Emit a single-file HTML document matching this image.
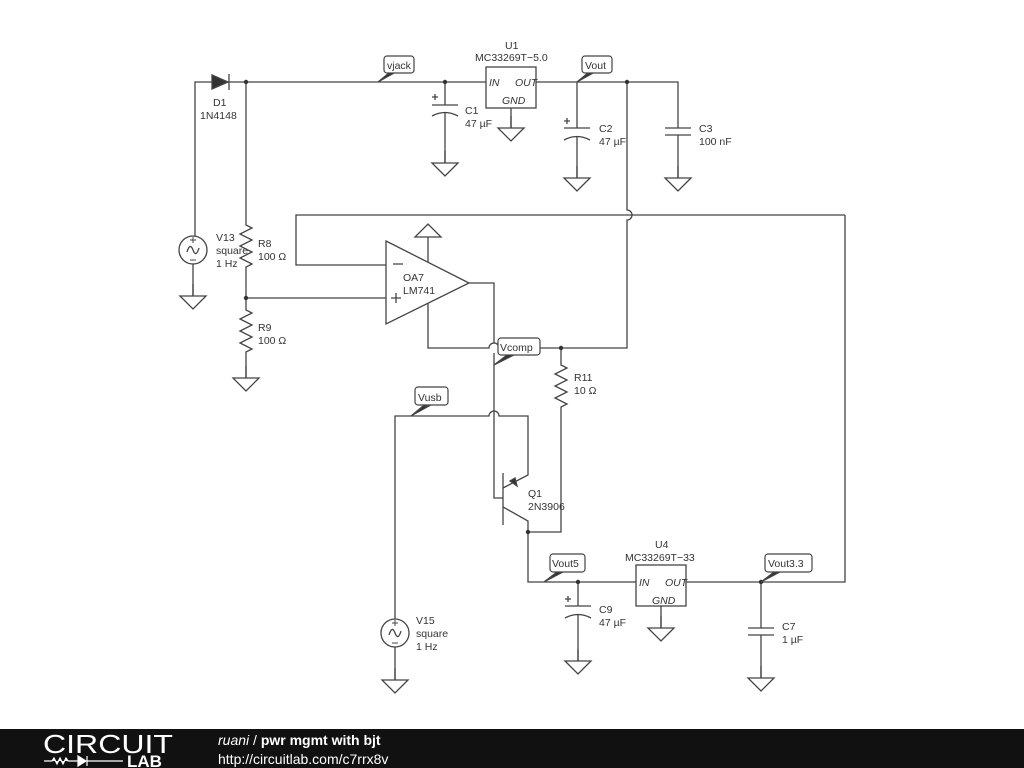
<!DOCTYPE html>
<html><head><style>
body{margin:0;width:1024px;height:768px;background:#fff;overflow:hidden;font-family:"Liberation Sans",sans-serif}
svg{position:absolute;left:0;top:0}
text{font-family:"Liberation Sans",sans-serif;font-size:10.5px;fill:#333}
</style></head><body>
<svg width="1024" height="768" viewBox="0 0 1024 768">
<defs>
<g id="gnd"><path d="M0 0 v12 M-13 12 h26 l-13 13 z" fill="none" stroke="#444" stroke-width="1.3"/></g>
<g id="dot"><circle r="2.2" fill="#333"/></g>
</defs>
<g fill="none" stroke="#444" stroke-width="1.3">
<path d="M195 236 V82 H212 M228 82 H486"/>
<path d="M212 75 L228 82 L212 89 Z" fill="#333"/>
<path d="M229 74 V90"/>
<path d="M246 82 V225 l6 3 -12 6 12 6 -12 6 12 6 -12 6 12 6 -6 3 V310 l6 3 -12 6 12 6 -12 6 12 6 -12 6 12 6 -6 3 V378"/>
<path d="M445 82 V105 M432 105 h26 M432 116 q13 -7 26 0 M445 112 V163"/>
<path d="M432 97 h6 M435 94 v6"/>
<rect x="486" y="67" width="50" height="41"/>
<path d="M511 108 V128 M536 82 H678 V128 M665 128 h26 M665 135 h26 M678 135 V178"/>
<path d="M577 82 V128 M564 128 h26 M564 140 q13 -7 26 0 M577 136 V178"/>
<path d="M564 121 h6 M567 118 v6"/>
<path d="M627 82 V210 a5 5 0 0 1 0 10 V348 H499 a5 5 0 0 0 -10 0 H428 V303"/>
<path d="M845 215 H296 V265 H386 M845 215 V582 H686"/>
<path d="M246 298 H386"/>
<path d="M386 241 L469 283 L386 324 Z"/>
<path d="M393 264 h10 M391 298 h10 M396 293 v10"/>
<path d="M428 262 V237 M415 237 h26 l-13 -13 z"/>
<path d="M469 283 H494 V343 M494 353 V498 H503"/>
<path d="M561 348 V365 l6 3 -12 6 12 6 -12 6 12 6 -12 6 12 6 -6 3 V532 H528"/>
<path d="M503 473 V525"/>
<path d="M503 488 L528 475 V416 H499 a5 5 0 0 0 -10 0 H395 V619"/>
<path d="M503 507 L528 521 V582 H636"/>
<path d="M510 481 L517 486 L515 478 Z" fill="#333"/>
<rect x="636" y="565" width="50" height="41"/>
<path d="M661 606 V628"/>
<path d="M578 582 V606 M565 606 h26 M565 618 q13 -7 26 0 M578 614 V661"/>
<path d="M565 599 h6 M568 596 v6"/>
<path d="M761 582 V628 M748 628 h26 M748 635 h26 M761 635 V678"/>
<circle cx="193" cy="250" r="14"/>
<path d="M187 252 q3 -10 6 -2 q3 8 6 -2"/>
<path d="M193 264 V296"/>
<circle cx="395" cy="633" r="14"/>
<path d="M389 635 q3 -10 6 -2 q3 8 6 -2"/>
<path d="M395 647 V680"/>
</g>
<g stroke="#444" stroke-width="1" fill="none">
<path d="M190 240 h6 M193 237 v6 M190 260 h6"/>
<path d="M392 623 h6 M395 620 v6 M392 643 h6"/>
</g>
<use href="#gnd" x="193" y="284"/>
<use href="#gnd" x="246" y="366"/>
<use href="#gnd" x="445" y="151"/>
<use href="#gnd" x="511" y="116"/>
<use href="#gnd" x="577" y="166"/>
<use href="#gnd" x="678" y="166"/>
<use href="#gnd" x="395" y="668"/>
<use href="#gnd" x="578" y="649"/>
<use href="#gnd" x="661" y="616"/>
<use href="#gnd" x="761" y="666"/>
<use href="#dot" x="246" y="82"/><use href="#dot" x="445" y="82"/>
<use href="#dot" x="627" y="82"/><use href="#dot" x="246" y="298"/>
<use href="#dot" x="561" y="348"/><use href="#dot" x="528" y="532"/>
<use href="#dot" x="578" y="582"/><use href="#dot" x="761" y="582"/>
<g stroke="#444" stroke-width="1.2">
<path d="M378 82 L390 72 L396 72 Z" fill="#333"/>
<rect x="384" y="56" width="30" height="17" rx="3" fill="#fff"/>
<path d="M577 82 L589 72 L595 72 Z" fill="#333"/>
<rect x="582" y="56" width="30" height="17" rx="3" fill="#fff"/>
<path d="M494 365 L507 355 L514 355 Z" fill="#333"/>
<rect x="498" y="338" width="42" height="17" rx="3" fill="#fff"/>
<path d="M411 416 L423 406 L429 406 Z" fill="#333"/>
<rect x="415" y="387" width="33" height="18" rx="3" fill="#fff"/>
<path d="M544 582 L557 572 L563 572 Z" fill="#333"/>
<rect x="550" y="554" width="35" height="18" rx="3" fill="#fff"/>
<path d="M761 582 L774 572 L780 572 Z" fill="#333"/>
<rect x="765" y="554" width="47" height="18" rx="3" fill="#fff"/>
</g>
<g style="font-size:11.5px">
<text x="387" y="69">vjack</text><text x="585" y="69">Vout</text>
<text x="500" y="351">Vcomp</text><text x="418" y="401">Vusb</text>
<text x="552" y="567">Vout5</text><text x="768" y="567">Vout3.3</text>
</g>
<text x="213" y="106">D1</text><text x="200" y="119">1N4148</text>
<text x="505" y="49">U1</text><text x="475" y="61">MC33269T−5.0</text>
<text x="465" y="114">C1</text><text x="465" y="127">47 µF</text>
<text x="599" y="132">C2</text><text x="599" y="145">47 µF</text>
<text x="699" y="132">C3</text><text x="699" y="145">100 nF</text>
<text x="216" y="241">V13</text><text x="216" y="254">square</text><text x="216" y="267">1 Hz</text>
<text x="258" y="247">R8</text><text x="258" y="260">100 Ω</text>
<text x="258" y="331">R9</text><text x="258" y="344">100 Ω</text>
<text x="403" y="281">OA7</text><text x="403" y="294">LM741</text>
<text x="574" y="381">R11</text><text x="574" y="394">10 Ω</text>
<text x="528" y="497">Q1</text><text x="528" y="510">2N3906</text>
<text x="655" y="548">U4</text><text x="625" y="561">MC33269T−33</text>
<text x="599" y="613">C9</text><text x="599" y="626">47 µF</text>
<text x="782" y="630">C7</text><text x="782" y="643">1 µF</text>
<text x="416" y="624">V15</text><text x="416" y="637">square</text><text x="416" y="650">1 Hz</text>
<g style="font-size:8px;font-style:italic">
<text x="489" y="86">IN</text><text x="515" y="86">OUT</text><text x="502" y="104">GND</text>
<text x="639" y="586">IN</text><text x="665" y="586">OUT</text><text x="652" y="604">GND</text>
</g>
<rect x="0" y="729" width="1024" height="39" fill="#111"/>
<text x="43" y="753" textLength="130" lengthAdjust="spacingAndGlyphs" style="font-size:26px;fill:#fff;font-weight:300">CIRCUIT</text>
<path d="M44 761 h8 l2 -3 3 6 3 -6 3 6 3 -6 2 3 h10 M78 756 l8 5 -8 5 z M87 756 v10 M87 761 h36" stroke="#fff" fill="#fff" stroke-width="1.2"/>
<text x="127" y="767" style="font-size:17px;fill:#fff;font-weight:bold">LAB</text>
<text x="218" y="745" style="font-size:14px;fill:#fff"><tspan font-style="italic">ruani</tspan> / <tspan font-weight="bold">pwr mgmt with bjt</tspan></text>
<text x="218" y="764" style="font-size:14px;fill:#fff">http://circuitlab.com/c7rrx8v</text>
</svg>
</body></html>
